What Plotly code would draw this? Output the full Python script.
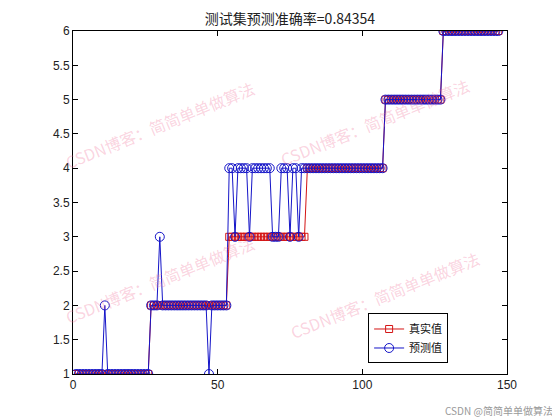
import plotly.graph_objects as go

# sample index
x_idx = list(range(1, 148))

# true class labels (真实值)
true_vals = [
    1, 1, 1, 1, 1, 1, 1, 1, 1, 1,
    1, 1, 1, 1, 1, 1, 1, 1, 1, 1,
    1, 1, 1, 1, 1, 1, 2, 2, 2, 2,
    2, 2, 2, 2, 2, 2, 2, 2, 2, 2,
    2, 2, 2, 2, 2, 2, 2, 2, 2, 2,
    2, 2, 2, 3, 3, 3, 3, 3, 3, 3,
    3, 3, 3, 3, 3, 3, 3, 3, 3, 3,
    3, 3, 3, 3, 3, 3, 3, 3, 3, 3,
    4, 4, 4, 4, 4, 4, 4, 4, 4, 4,
    4, 4, 4, 4, 4, 4, 4, 4, 4, 4,
    4, 4, 4, 4, 4, 4, 4, 5, 5, 5,
    5, 5, 5, 5, 5, 5, 5, 5, 5, 5,
    5, 5, 5, 5, 5, 5, 5, 6, 6, 6,
    6, 6, 6, 6, 6, 6, 6, 6, 6, 6,
    6, 6, 6, 6, 6, 6, 6,
]

# predicted class labels (预测值)
pred_vals = [
    1, 1, 1, 1, 1, 1, 1, 1, 1, 1,
    2, 1, 1, 1, 1, 1, 1, 1, 1, 1,
    1, 1, 1, 1, 1, 1, 2, 2, 2, 3,
    2, 2, 2, 2, 2, 2, 2, 2, 2, 2,
    2, 2, 2, 2, 2, 2, 1, 2, 2, 2,
    2, 2, 2, 4, 4, 3, 4, 4, 4, 4,
    3, 4, 4, 4, 4, 4, 4, 4, 3, 3,
    3, 4, 4, 4, 3, 4, 4, 3, 4, 4,
    4, 4, 4, 4, 4, 4, 4, 4, 4, 4,
    4, 4, 4, 4, 4, 4, 4, 4, 4, 4,
    4, 4, 4, 4, 4, 4, 4, 5, 5, 5,
    5, 5, 5, 5, 5, 5, 5, 5, 5, 5,
    5, 5, 5, 5, 5, 5, 5, 6, 6, 6,
    6, 6, 6, 6, 6, 6, 6, 6, 6, 6,
    6, 6, 6, 6, 6, 6, 6,
]

x_ticks = [0, 50, 100, 150]
y_ticks = [1, 1.5, 2, 2.5, 3, 3.5, 4, 4.5, 5, 5.5, 6]
y_tick_text = ["1", "1.5", "2", "2.5", "3", "3.5", "4", "4.5", "5", "5.5", "6"]
accuracy = 0.84354

fig = go.Figure()
fig.add_trace(go.Scatter(
    x=x_idx, y=true_vals, mode="lines+markers", name="真实值",
    line=dict(color="#d41414", width=1),
    marker=dict(symbol="square-open", size=7, color="#d41414", line=dict(width=1)),
))
fig.add_trace(go.Scatter(
    x=x_idx, y=pred_vals, mode="lines+markers", name="预测值",
    line=dict(color="#1515c8", width=1),
    marker=dict(symbol="circle-open", size=9, color="#1515c8", line=dict(width=1)),
))

wm_text = "CSDN博客：简简单单做算法"
wm_font = dict(family="Noto Sans CJK SC", size=16, color="rgba(240,110,150,0.30)")
for (px, py) in [(0.200, 0.726), (0.696, 0.735), (0.200, 0.274), (0.719, 0.230)]:
    fig.add_annotation(text=wm_text, xref="paper", yref="paper", x=px, y=py,
                       xanchor="center", yanchor="middle",
                       showarrow=False, textangle=-22, font=wm_font)

fig.add_annotation(text="CSDN @简简单单做算法", xref="paper", yref="paper",
                   x=1.1106, y=-0.105, xanchor="right", yanchor="middle", showarrow=False,
                   font=dict(family="Noto Sans CJK SC", size=10, color="#999999"))

axis_common = dict(
    showline=True, linecolor="black", linewidth=1, mirror="ticks",
    ticks="inside", ticklen=5, tickcolor="black", showgrid=False, zeroline=False,
    tickfont=dict(family="Liberation Sans, Arial", size=12, color="#222222"),
)

# The page body has an 8px margin, so the figure is 8px smaller and the
# left/top margins are 8px smaller to land the axes where the reference has them.
fig.update_layout(
    width=552, height=412,
    margin=dict(l=65, r=53, t=23, b=46, autoexpand=False),
    paper_bgcolor="white", plot_bgcolor="white",
    title=dict(text="测试集预测准确率=" + str(accuracy), x=0.5, xref="paper", xanchor="center",
               y=1 - 11.5 / 412, yref="container", yanchor="middle",
               font=dict(family="Noto Sans CJK SC, Liberation Sans", size=14, color="#222222")),
    xaxis=dict(range=[0, 150], tickvals=x_ticks, **axis_common),
    yaxis=dict(range=[1, 6], tickvals=y_ticks, ticktext=y_tick_text, **axis_common),
    legend=dict(x=0.680, y=0.1035, xanchor="left", yanchor="middle",
                bgcolor="white", bordercolor="black", borderwidth=1,
                font=dict(family="Noto Sans CJK SC", size=11, color="#111111"),
                itemwidth=30, tracegroupgap=0),
    showlegend=True,
)

fig.write_html("out.html")
